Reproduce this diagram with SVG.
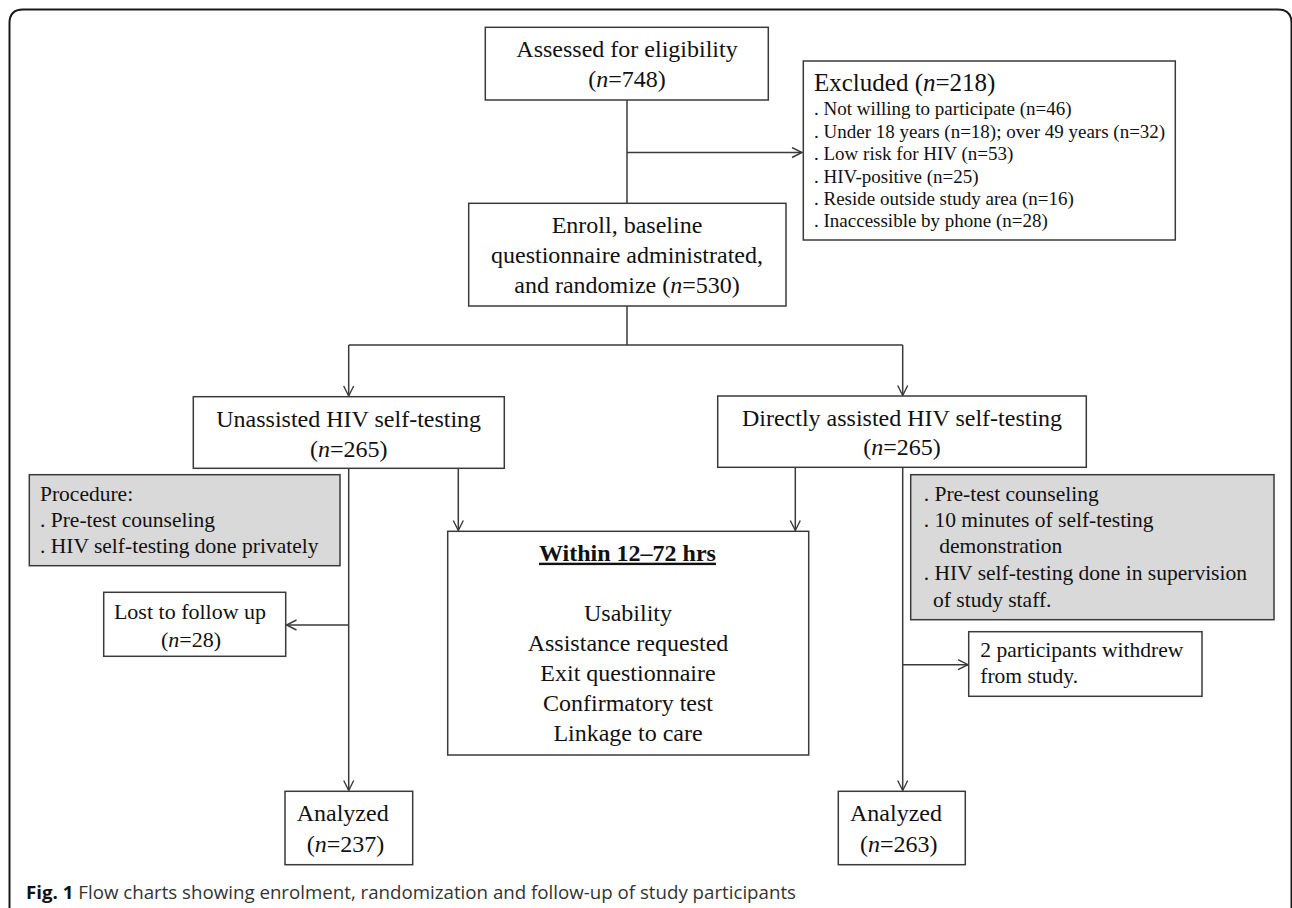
<svg xmlns="http://www.w3.org/2000/svg" width="1292" height="908" viewBox="0 0 1292 908">
<style>
  .box { fill: #ffffff; stroke: #3a3a3a; stroke-width: 1.5; }
  .grey { fill: #d9d9d9; stroke: #3a3a3a; stroke-width: 1.5; }
  .t { font-family: "Liberation Serif", "Times New Roman", serif; fill: #111; }
  .t24 { font-size: 24px; }
  .t25 { font-size: 25px; }
  .t22 { font-size: 22px; }
  .t21 { font-size: 21.5px; }
  .t19 { font-size: 19px; }
  .mid { text-anchor: middle; }
  .it { font-style: italic; }
  .conn path { fill: none; stroke: #3a3a3a; stroke-width: 1.5; }
  .cap { font-family: "Open Sans", "Noto Sans", "Liberation Sans", sans-serif; font-size: 18.5px; fill: #333; }
</style>
<defs>
  <marker id="arr" markerUnits="userSpaceOnUse" markerWidth="14" markerHeight="14" refX="11" refY="6" orient="auto">
    <path d="M1,1 L11,6 L1,11" fill="none" stroke="#3a3a3a" stroke-width="1.4"/>
  </marker>
</defs>
<rect width="1292" height="908" fill="#ffffff"/>
<path d="M9.5,908 V23 Q9.5,9.5 23,9.5 H1278 Q1291.5,9.5 1291.5,23 V908" fill="none" stroke="#1a1a1a" stroke-width="2"/>

<g class="conn" id="connectors">
  <path d="M627,100 V203.3"/>
  <path d="M627,152.5 H802" marker-end="url(#arr)"/>
  <path d="M627,306 V345 M348.7,345 H902.7"/>
  <path d="M348.7,345 V396" marker-end="url(#arr)"/>
  <path d="M902.7,345 V395.5" marker-end="url(#arr)"/>
  <path d="M348.7,468.3 V790.5" marker-end="url(#arr)"/>
  <path d="M348.7,625 H286.5" marker-end="url(#arr)"/>
  <path d="M458.3,468.3 V530.5" marker-end="url(#arr)"/>
  <path d="M795.3,467.3 V530.5" marker-end="url(#arr)"/>
  <path d="M902.7,467.3 V790.5" marker-end="url(#arr)"/>
  <path d="M902.7,664.7 H968" marker-end="url(#arr)"/>
</g>

<g id="assessed">
  <rect class="box" x="485.3" y="27.3" width="283" height="72.7"/>
  <text class="t t24 mid" x="627" y="57.3">Assessed for eligibility</text>
  <text class="t t24 mid" x="627" y="87.3">(<tspan class="it">n</tspan>=748)</text>
</g>

<g id="excluded">
  <rect class="box" x="803.3" y="61" width="372" height="179"/>
  <text class="t t25" x="814" y="90.5">Excluded (<tspan class="it">n</tspan>=218)</text>
  <text class="t t19" x="814" y="115">. Not willing to participate (n=46)</text>
  <text class="t t19" x="814" y="137.5">. Under 18 years (n=18); over 49 years (n=32)</text>
  <text class="t t19" x="814" y="160">. Low risk for HIV (n=53)</text>
  <text class="t t19" x="814" y="182.5">. HIV-positive (n=25)</text>
  <text class="t t19" x="814" y="205">. Reside outside study area (n=16)</text>
  <text class="t t19" x="814" y="227.3">. Inaccessible by phone (n=28)</text>
</g>

<g id="enroll">
  <rect class="box" x="468.7" y="203.3" width="317.3" height="102.7"/>
  <text class="t t24 mid" x="627" y="233.3">Enroll, baseline</text>
  <text class="t t24 mid" x="627" y="263.3">questionnaire administrated,</text>
  <text class="t t24 mid" x="627" y="293.3">and randomize (<tspan class="it">n</tspan>=530)</text>
</g>

<g id="unassisted">
  <rect class="box" x="193.3" y="396.7" width="311" height="71.6"/>
  <text class="t t24 mid" x="348.7" y="427">Unassisted HIV self-testing</text>
  <text class="t t24 mid" x="348.7" y="456.5">(<tspan class="it">n</tspan>=265)</text>
</g>

<g id="directly">
  <rect class="box" x="717.7" y="396" width="368.6" height="71.3"/>
  <text class="t t24 mid" x="902" y="426">Directly assisted HIV self-testing</text>
  <text class="t t24 mid" x="902" y="455">(<tspan class="it">n</tspan>=265)</text>
</g>

<g id="procedure-unassisted">
  <rect class="grey" x="29.3" y="474.7" width="310.7" height="91"/>
  <text class="t t21" x="40" y="500.7">Procedure:</text>
  <text class="t t21" x="40" y="526.7">. Pre-test counseling</text>
  <text class="t t21" x="40" y="553.3">. HIV self-testing done privately</text>
</g>

<g id="procedure-assisted">
  <rect class="grey" x="910.7" y="474.7" width="363.3" height="145"/>
  <text class="t t21" x="923.7" y="500.7">. Pre-test counseling</text>
  <text class="t t21" x="923.7" y="526.7">. 10 minutes of self-testing</text>
  <text class="t t21" x="939.3" y="553.3">demonstration</text>
  <text class="t t21" x="923.7" y="580">. HIV self-testing done in supervision</text>
  <text class="t t21" x="933" y="606.7">of study staff.</text>
</g>

<g id="within">
  <rect class="box" x="447.7" y="531.3" width="361" height="223.7"/>
  <text class="t t24 mid" x="627.5" y="560.7" font-weight="bold" text-decoration="underline">Within 12–72 hrs</text>
  <text class="t t24 mid" x="628" y="620.7">Usability</text>
  <text class="t t24 mid" x="628" y="650.7">Assistance requested</text>
  <text class="t t24 mid" x="628" y="680.7">Exit questionnaire</text>
  <text class="t t24 mid" x="628" y="710.7">Confirmatory test</text>
  <text class="t t24 mid" x="628" y="740.7">Linkage to care</text>
</g>

<g id="lost">
  <rect class="box" x="103.7" y="592.3" width="182" height="64"/>
  <text class="t t22 mid" x="190" y="619">Lost to follow up</text>
  <text class="t t22 mid" x="191" y="646.7">(<tspan class="it">n</tspan>=28)</text>
</g>

<g id="withdrew">
  <rect class="box" x="968.7" y="631.7" width="233.3" height="64.6"/>
  <text class="t t21" x="980.3" y="657.3">2 participants withdrew</text>
  <text class="t t21" x="980.3" y="683.3">from study.</text>
</g>

<g id="analyzed-left">
  <rect class="box" x="285" y="791.3" width="127.7" height="73.4"/>
  <text class="t t24" x="296.7" y="821.3">Analyzed</text>
  <text class="t t24" x="306.7" y="852.3">(<tspan class="it">n</tspan>=237)</text>
</g>

<g id="analyzed-right">
  <rect class="box" x="838.3" y="791.3" width="127" height="73.4"/>
  <text class="t t24" x="850" y="821.3">Analyzed</text>
  <text class="t t24" x="860" y="852.3">(<tspan class="it">n</tspan>=263)</text>
</g>

<g id="caption">
  <text class="cap" x="26" y="899" textLength="770" lengthAdjust="spacingAndGlyphs"><tspan font-weight="bold" fill="#111">Fig. 1</tspan> Flow charts showing enrolment, randomization and follow-up of study participants</text>
</g>
</svg>
